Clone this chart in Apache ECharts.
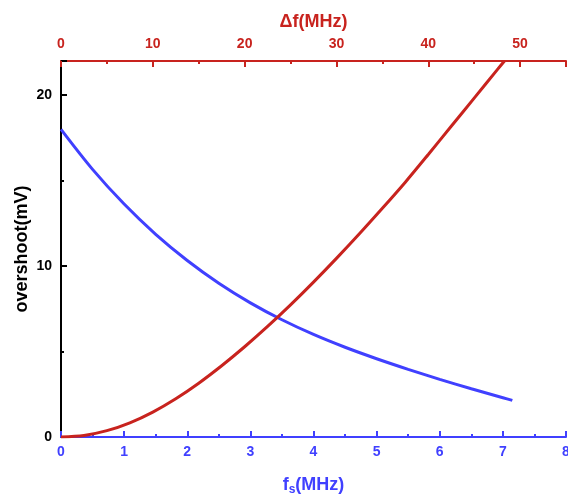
<!DOCTYPE html>
<html lang="en">
<head>
    <meta charset="UTF-8">
    <title>overshoot vs fs</title>
    <style>
        html, body { margin: 0; padding: 0; background: #fff; }
        #main { width: 568px; height: 501px; }
    </style>
</head>
<body>
    <div id="main"></div>
</body>
</html>
<script src="https://cdn.jsdelivr.net/npm/echarts@6/dist/echarts.min.js"></script>
<script type="text/javascript">
// blue curve: overshoot against fs (bottom axis)
var fsValues = [0, 0.5, 1, 1.5, 2, 2.5, 3, 3.5, 4, 4.5, 5, 5.5, 6, 6.5, 7, 7.15];
var overshootFs = [18, 15.66, 13.63, 11.86, 10.33, 9.0, 7.85, 6.86, 6.0, 5.25, 4.58, 3.96, 3.37, 2.82, 2.3, 2.14];
// red curve: overshoot against delta f (top axis)
var deltaF = [0, 2.5, 5, 7.5, 10, 12.5, 15, 17.5, 20, 22.5, 25, 27.5, 30, 32.5, 35, 37.5, 40, 42.5, 45, 47.5, 48.3];
var overshootDf = [0, 0.09, 0.37, 0.83, 1.46, 2.24, 3.15, 4.17, 5.28, 6.47, 7.73, 9.06, 10.45, 11.89, 13.38, 14.91, 16.53, 18.18, 19.83, 21.48, 22];

var blue = '#4040ff';
var red = '#c8231e';
var font = '"Liberation Sans", Arial, sans-serif';

function pairs(xs, ys) {
    return xs.map(function (x, i) { return [x, ys[i]]; });
}

var myChart = echarts.init(document.getElementById('main'));
var option = {
    animation: false,
    backgroundColor: '#fff',
    grid: { left: 61, right: 2, top: 61, bottom: 64, outerBoundsMode: 'none', containLabel: false },
    xAxis: [{
        type: 'value',
        position: 'bottom',
        min: 0, max: 8, interval: 1,
        name: '{a|f}{s|s}{a|(MHz)}',
        nameLocation: 'middle',
        nameGap: 37,
        nameMoveOverlap: false,
        nameTextStyle: {
            rich: {
                a: { fontFamily: font, fontWeight: 'bold', fontSize: 18, color: blue },
                s: { fontFamily: font, fontWeight: 'bold', fontSize: 12, color: blue, verticalAlign: 'bottom', padding: [10, 0, 0, 0] }
            }
        },
        axisLine: { lineStyle: { color: blue, width: 2 } },
        axisTick: { inside: true, length: 6, lineStyle: { color: blue, width: 2 } },
        minorTick: { show: true, splitNumber: 2, length: 3, lineStyle: { color: blue, width: 2 } },
        axisLabel: { color: blue, fontFamily: font, fontWeight: 'bold', fontSize: 14, margin: 8 },
        splitLine: { show: false }
    }, {
        type: 'value',
        position: 'top',
        min: 0, max: 55, interval: 10,
        name: 'Δf(MHz)',
        nameLocation: 'middle',
        nameGap: 30,
        nameMoveOverlap: false,
        nameTextStyle: { color: red, fontFamily: font, fontWeight: 'bold', fontSize: 18 },
        axisLine: { lineStyle: { color: red, width: 2 } },
        axisTick: { inside: true, length: 6, lineStyle: { color: red, width: 2 } },
        minorTick: { show: true, splitNumber: 2, length: 3, lineStyle: { color: red, width: 2 } },
        axisLabel: { color: red, fontFamily: font, fontWeight: 'bold', fontSize: 14, margin: 10, showMaxLabel: false },
        splitLine: { show: false }
    }],
    yAxis: {
        type: 'value',
        min: 0, max: 22, interval: 10,
        name: 'overshoot(mV)',
        nameLocation: 'middle',
        nameGap: 30,
        nameMoveOverlap: false,
        nameTextStyle: { color: '#000', fontFamily: font, fontWeight: 'bold', fontSize: 18 },
        axisLine: { lineStyle: { color: '#000', width: 2 } },
        axisTick: { inside: true, length: 6, lineStyle: { color: '#000', width: 2 } },
        minorTick: { show: true, splitNumber: 2, length: 3, lineStyle: { color: '#000', width: 2 } },
        axisLabel: { color: '#000', fontFamily: font, fontWeight: 'bold', fontSize: 14, margin: 9, showMaxLabel: false },
        splitLine: { show: false }
    },
    series: [{
        type: 'line',
        xAxisIndex: 0,
        data: pairs(fsValues, overshootFs),
        showSymbol: false,
        smooth: 0.3,
        lineStyle: { color: blue, width: 3 }
    }, {
        type: 'line',
        xAxisIndex: 1,
        data: pairs(deltaF, overshootDf),
        showSymbol: false,
        smooth: 0.3,
        lineStyle: { color: red, width: 3 }
    }]
};
myChart.setOption(option);
</script>
